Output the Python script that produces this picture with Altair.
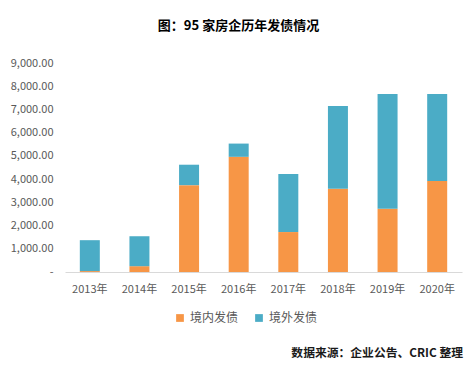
import altair as alt
import pandas as pd

years = ["2013年", "2014年", "2015年", "2016年", "2017年", "2018年", "2019年", "2020年"]
domestic = [40, 250, 3740, 4960, 1720, 3580, 2720, 3920]
total = [1370, 1540, 4620, 5530, 4220, 7150, 7670, 7670]
overseas = [t - d for t, d in zip(total, domestic)]
series = ["境内发债", "境外发债"]
colors = ["#F79646", "#4BACC6"]

rows = []
for y, d, o in zip(years, domestic, overseas):
    rows.append({"year": y, "type": series[0], "value": d, "ord": 0})
    rows.append({"year": y, "type": series[1], "value": o, "ord": 1})
df = pd.DataFrame(rows)

FONT = "Noto Sans CJK SC"

bars = alt.Chart(df).mark_bar(size=20).encode(
    x=alt.X("year:N", sort=years, title=None,
            axis=alt.Axis(labelAngle=0, labelFontSize=11, labelColor="#595959",
                          labelFont=FONT, ticks=False, domainColor="#D9D9D9",
                          labelPadding=11)),
    y=alt.Y("value:Q", stack="zero", title=None,
            scale=alt.Scale(domain=[0, 9000]),
            axis=alt.Axis(values=list(range(0, 9001, 1000)), grid=False, domain=False,
                          ticks=False, labelFontSize=11, labelColor="#595959",
                          labelFont=FONT, labelPadding=12,
                          labelExpr="datum.value == 0 ? '-' : format(datum.value, ',.2f')")),
    color=alt.Color("type:N", sort=series,
                    scale=alt.Scale(domain=series, range=colors),
                    legend=alt.Legend(title=None, orient="none", direction="horizontal",
                                      legendX=109, legendY=249, symbolType="square",
                                      symbolSize=60, labelFontSize=12, labelColor="#595959",
                                      labelFont=FONT, columnPadding=14, symbolStrokeWidth=0)),
    order=alt.Order("ord:Q"),
)

src = pd.DataFrame({"t": ["数据来源：企业公告、CRIC 整理"]})
source = alt.Chart(src).mark_text(align="right", baseline="middle", fontSize=11.8,
                                  fontWeight="bold", font=FONT, color="#1a1a1a").encode(
    text="t:N", x=alt.value(398), y=alt.value(290))

chart = alt.layer(bars, source).properties(
    width=397, height=209,
    title=alt.TitleParams("图：95 家房企历年发债情况", fontSize=13, fontWeight="bold",
                          font=FONT, color="#000000", anchor="middle", dx=-25, offset=24),
    autosize=alt.AutoSizeParams(type="none"),
    padding={"left": 57, "top": 55, "right": 2, "bottom": 91},
).configure_view(stroke=None)

chart.save("out.html", embed_options={"renderer": "svg", "actions": False})
